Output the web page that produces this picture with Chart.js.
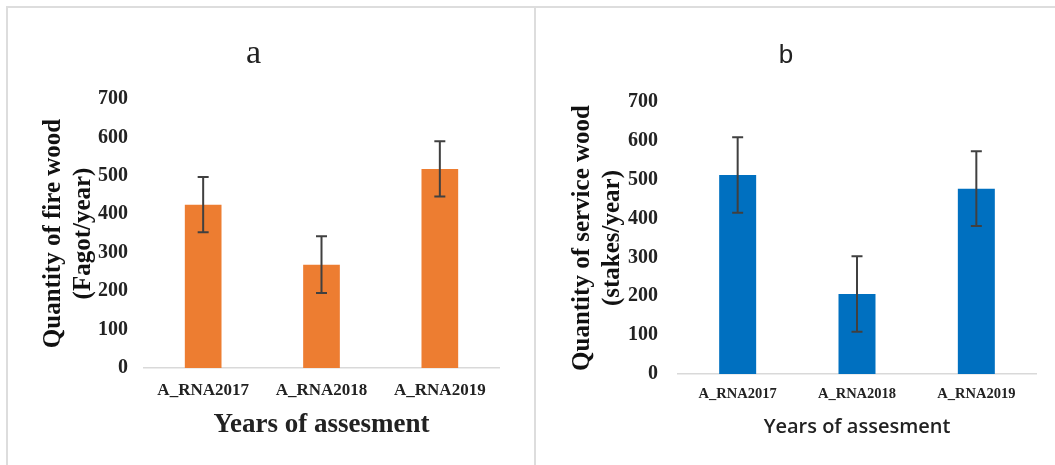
<!DOCTYPE html>
<html>
<head>
<meta charset="utf-8">
<script src="https://cdn.jsdelivr.net/npm/chart.js@4"></script>
<style>
  body { margin: 0; background: #fff; }
  .frame { position: absolute; left: 6px; top: 6px; width: 1049px; height: 459px;
           border-top: 2px solid #dddddd; border-left: 2px solid #dddddd; }
  .divider { position: absolute; left: 534px; top: 6px; width: 2px; height: 459px; background: #dddddd; }
  canvas { position: absolute; }
</style>
</head>
<body>
<div class="frame"></div>
<div class="divider"></div>
<canvas id="chartA" width="527" height="457" style="left:8px;top:8px"></canvas>
<canvas id="chartB" width="519" height="457" style="left:536px;top:8px"></canvas>
<script>
const categories = ['A_RNA2017', 'A_RNA2018', 'A_RNA2019'];
const fireWood = [425, 269, 518];
const fireWoodErr = [72, 74, 72];
const serviceWood = [512, 206, 477];
const serviceWoodErr = [97, 97, 96];

const serif = 'Liberation Serif, Times New Roman, serif';

// draws the +/- error whiskers on top of the bars
const errorBars = {
    id: 'errorBars',
    afterDatasetsDraw(chart, args, opts) {
        const { ctx } = chart;
        const y = chart.scales.y;
        const meta = chart.getDatasetMeta(0);
        ctx.save();
        ctx.strokeStyle = '#404040';
        ctx.lineWidth = 2;
        meta.data.forEach((bar, i) => {
            const v = chart.data.datasets[0].data[i];
            const e = opts.errors[i];
            const top = y.getPixelForValue(v + e);
            const bot = y.getPixelForValue(v - e);
            ctx.beginPath();
            ctx.moveTo(bar.x, top);
            ctx.lineTo(bar.x, bot);
            ctx.moveTo(bar.x - 5.5, top);
            ctx.lineTo(bar.x + 5.5, top);
            ctx.moveTo(bar.x - 5.5, bot);
            ctx.lineTo(bar.x + 5.5, bot);
            ctx.stroke();
        });
        ctx.restore();
    }
};

function makeChart(id, cfg) {
    new Chart(document.getElementById(id), {
        type: 'bar',
        data: {
            labels: categories,
            datasets: [{
                data: cfg.values,
                backgroundColor: cfg.color,
                borderWidth: 0,
                barPercentage: 0.31,
                categoryPercentage: 1,
            }],
        },
        options: {
            responsive: false,
            animation: false,
            layout: { padding: { right: cfg.padRight, left: 0, top: 0, bottom: 0 } },
            plugins: {
                legend: { display: false },
                tooltip: { enabled: false },
                title: {
                    display: true,
                    text: cfg.title,
                    color: '#222',
                    font: cfg.titleFont,
                    padding: cfg.titlePad,
                },
                errorBars: { errors: cfg.errors },
            },
            scales: {
                x: {
                    grid: { display: false },
                    border: { display: true, color: '#d9d9d9', width: 1.5 },
                    ticks: { color: '#222', font: { family: serif, size: cfg.xTickSize, weight: 'bold' }, padding: cfg.xTickPad, maxRotation: 0 },
                    title: { display: true, text: 'Years of assesment', color: '#222', font: cfg.xTitleFont, padding: { top: 0, bottom: cfg.xTitlePad } },
                    afterFit: s => { s.height = cfg.xHeight; },
                },
                y: {
                    min: 0,
                    max: 700,
                    grid: { display: false, drawTicks: false },
                    border: { display: false },
                    ticks: { stepSize: 100, color: '#222', font: { family: serif, size: cfg.yTickSize, weight: 'bold' }, padding: cfg.yTickPad },
                    title: { display: true, text: cfg.yTitle, color: '#111', font: { family: serif, size: 25, weight: 'bold', lineHeight: 1.2 }, padding: { top: cfg.yTitlePad, bottom: 0 } },
                    afterFit: s => { s.width = cfg.yWidth; },
                },
            },
        },
        plugins: [errorBars],
    });
}

makeChart('chartA', {
    values: fireWood,
    errors: fireWoodErr,
    color: '#ED7D31',
    title: 'a',
    titleFont: { family: serif, size: 34, weight: 'normal', lineHeight: 1.2 },
    titlePad: { top: 25.2, bottom: 25 },
    yTitle: ['Quantity of fire wood', '(Fagot/year)'],
    yTitlePad: 31,
    xTitleFont: { family: serif, size: 27, weight: 'bold', lineHeight: 1.2 },
    xTitlePad: 24,
    xTickSize: 17,
    xTickPad: 4,
    yTickSize: 20,
    yTickPad: 16,
    xHeight: 97,
    yWidth: 136,
    padRight: 36,
});

makeChart('chartB', {
    values: serviceWood,
    errors: serviceWoodErr,
    color: '#0070C0',
    title: 'b',
    titleFont: { family: 'Liberation Sans, Arial, sans-serif', size: 26, weight: 'normal', lineHeight: 1.2 },
    titlePad: { top: 32.4, bottom: 30.4 },
    yTitle: ['Quantity of service wood', '(stakes/year)'],
    yTitlePad: 32,
    xTitleFont: { family: 'Open Sans, sans-serif', size: 20, weight: '600', lineHeight: 1.2 },
    xTitlePad: 26,
    xTickSize: 14.5,
    xTickPad: 4,
    yTickSize: 20,
    yTickPad: 20,
    xHeight: 91,
    yWidth: 142,
    padRight: 19,
});
</script>
</body>
</html>
